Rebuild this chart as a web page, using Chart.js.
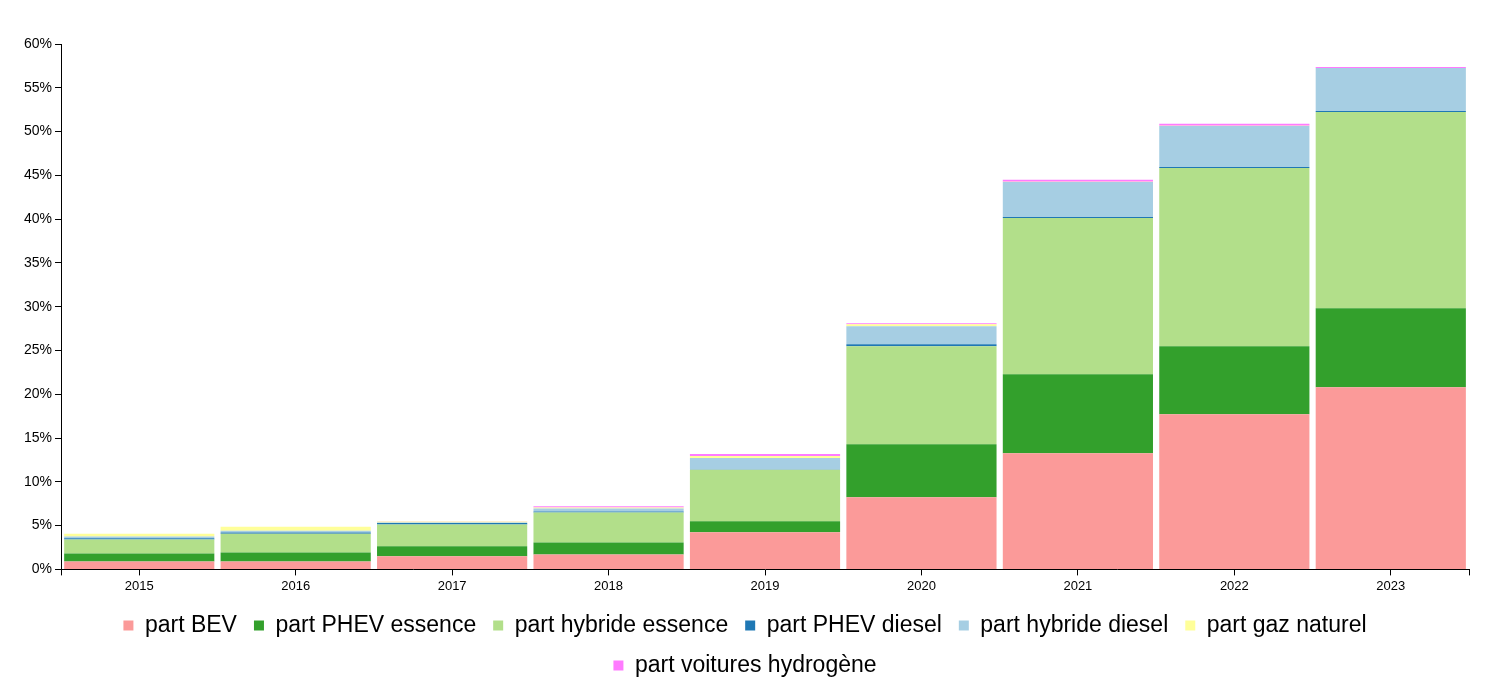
<!DOCTYPE html>
<html>
<head>
<meta charset="utf-8">
<script src="https://cdn.jsdelivr.net/npm/chart.js@4"></script>
<style>
  html, body { margin: 0; padding: 0; background: #fff; }
  #wrap { width: 1497px; height: 692px; }
</style>
</head>
<body>
<div id="wrap"><canvas id="chart" width="1497" height="692"></canvas></div>
<script>
var years = ['2015', '2016', '2017', '2018', '2019', '2020', '2021', '2022', '2023'];

// parts de marché en %
var partBEV = [0.91, 0.91, 1.49, 1.71, 4.23, 8.23, 13.26, 17.71, 20.8];
var partPHEVEssence = [0.91, 1.03, 1.14, 1.37, 1.26, 6.06, 9.03, 7.78, 9.03];
var partHybrideEssence = [1.6, 2.13, 2.51, 3.43, 5.9, 11.2, 17.83, 20.34, 22.4];
var partPHEVDiesel = [0.15, 0.15, 0.15, 0.11, 0.03, 0.23, 0.11, 0.11, 0.11];
var partHybrideDiesel = [0.19, 0.19, 0.08, 0.34, 1.3, 2.06, 4.0, 4.69, 4.91];
var partGazNaturel = [0.3, 0.46, 0.11, 0.11, 0.23, 0.23, 0.05, 0.02, 0.02];
var partHydrogene = [0.01, 0.01, 0.01, 0.15, 0.23, 0.11, 0.23, 0.23, 0.11];

var yTicks = [0, 5, 10, 15, 20, 25, 30, 35, 40, 45, 50, 55, 60];

function ds(label, data, color) {
  return { label: label, data: data, backgroundColor: color, borderWidth: 0,
           barPercentage: 0.96, categoryPercentage: 1.0 };
}

// petits traits aux extrémités de l'axe x (comme un axe d3)
var outerTicks = {
  id: 'outerTicks',
  afterDraw: function(chart) {
    var ctx = chart.ctx, x = chart.scales.x;
    ctx.save();
    ctx.strokeStyle = '#000';
    ctx.lineWidth = 1;
    [x.left, x.right].forEach(function(px) {
      ctx.beginPath();
      ctx.moveTo(Math.round(px) + 0.5, x.top);
      ctx.lineTo(Math.round(px) + 0.5, x.top + 6);
      ctx.stroke();
    });
    ctx.restore();
  }
};

new Chart(document.getElementById('chart'), {
  type: 'bar',
  data: {
    labels: years,
    datasets: [
      ds('part BEV', partBEV, '#fb9a99'),
      ds('part PHEV essence', partPHEVEssence, '#33a02c'),
      ds('part hybride essence', partHybrideEssence, '#b2df8a'),
      ds('part PHEV diesel', partPHEVDiesel, '#1f78b4'),
      ds('part hybride diesel', partHybrideDiesel, '#a6cee3'),
      ds('part gaz naturel', partGazNaturel, '#ffff99'),
      ds('part voitures hydrogène', partHydrogene, '#ff7bff')
    ]
  },
  plugins: [outerTicks],
  options: {
    responsive: false,
    animation: false,
    layout: { padding: { top: 44, right: 28, left: 21, bottom: 5 } },
    plugins: {
      tooltip: { enabled: false },
      legend: {
        position: 'bottom',
        labels: {
          boxWidth: 10, boxHeight: 10, padding: 17,
          color: '#000',
          font: { family: 'Liberation Sans, Arial, sans-serif', size: 23 }
        }
      }
    },
    scales: {
      x: {
        stacked: true,
        grid: { drawOnChartArea: false, drawTicks: true, tickLength: 6, color: '#000', offset: false },
        border: { color: '#000', width: 1 },
        ticks: { color: '#000', padding: 3, font: { family: 'Liberation Sans, Arial, sans-serif', size: 13 } }
      },
      y: {
        stacked: true,
        min: 0,
        max: 60,
        afterBuildTicks: function(axis) {
          axis.ticks = yTicks.map(function(v) { return { value: v }; });
        },
        grid: { drawOnChartArea: false, drawTicks: true, tickLength: 6, color: '#000' },
        border: { color: '#000', width: 1 },
        ticks: {
          color: '#000', padding: 3,
          font: { family: 'Liberation Sans, Arial, sans-serif', size: 14 },
          callback: function(v) { return v + '%'; }
        }
      }
    }
  }
});
</script>
</body>
</html>
